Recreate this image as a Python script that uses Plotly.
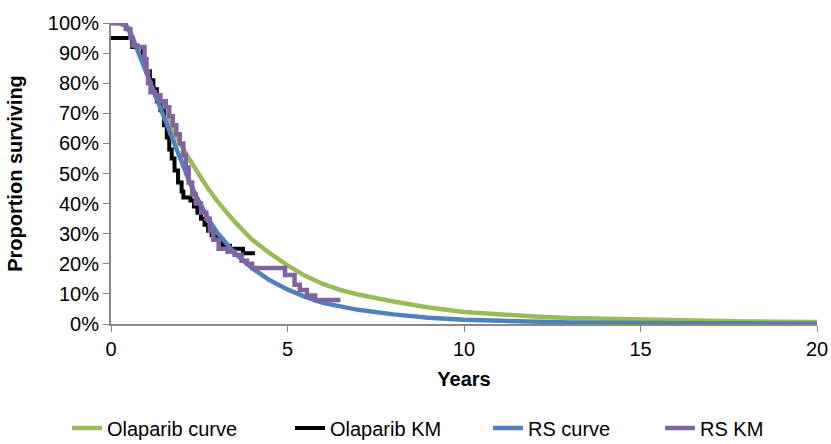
import plotly.graph_objects as go

# Fitted curves, proportion surviving in %
olap_curve_t = [0, 0.25, 0.4, 0.5, 0.6, 0.75, 0.9, 1.0, 1.25, 1.5, 1.75, 2.0, 2.25, 2.5, 2.75, 3.0, 3.5, 4.0, 4.5, 5.0, 5.5, 6, 6.5, 7, 8, 9, 10, 11, 12, 13, 14, 15, 16, 17, 18, 19, 20]
olap_curve_s = [100, 99.8, 99, 97.5, 95, 91, 87, 84.5, 78, 71, 64.5, 59, 54, 49.5, 45, 41, 34, 28, 23.5, 19.5, 16, 13.3, 11.3, 9.8, 7.5, 5.5, 4.0, 3.2, 2.5, 2.0, 1.7, 1.4, 1.2, 1.0, 0.85, 0.75, 0.65]

rs_curve_t = [0, 0.25, 0.4, 0.5, 0.6, 0.75, 0.9, 1.0, 1.25, 1.5, 1.75, 2.0, 2.25, 2.5, 2.75, 3.0, 3.5, 4.0, 4.5, 5.0, 5.5, 6.0, 6.5, 7.0, 8.0, 9.0, 10, 11, 12, 13, 14, 15, 16, 18, 20]
rs_curve_s = [100, 100, 99.5, 98, 95.5, 91, 87, 84, 76.5, 68.5, 61, 53.5, 46.5, 40.5, 35, 30.5, 23.5, 18.5, 14.5, 11.5, 9.0, 7.0, 5.7, 4.7, 3.2, 2.1, 1.4, 1.0, 0.7, 0.5, 0.4, 0.3, 0.25, 0.15, 0.1]

# Kaplan-Meier step data
olap_km_t = [0, 0.6, 0.9, 1.0, 1.1, 1.2, 1.3, 1.4, 1.5, 1.58, 1.65, 1.72, 1.8, 1.9, 2.0, 2.05, 2.25, 2.35, 2.45, 2.55, 2.65, 2.75, 2.85, 3.0, 3.17, 3.37, 3.74, 4.08]
olap_km_s = [95, 92, 88, 84, 81, 78, 74, 71, 66, 62, 58, 55, 51, 47, 44, 42, 41, 39, 37, 35, 33, 31, 29.5, 28, 26, 25, 23.5, 23.5]

rs_km_t = [0, 0.42, 0.55, 0.62, 0.75, 0.95, 1.0, 1.05, 1.12, 1.25, 1.4, 1.55, 1.65, 1.75, 1.85, 1.95, 2.05, 2.12, 2.2, 2.3, 2.4, 2.55, 2.7, 2.8, 2.9, 3.05, 3.3, 3.5, 3.7, 3.85, 4.0, 4.93, 5.2, 5.35, 5.55, 5.78, 6.5]
rs_km_s = [100, 98, 95, 92.5, 92, 88, 84, 80, 77, 76, 74, 72, 69, 66, 63, 60, 56, 52, 47, 43, 40, 37, 35, 31, 28, 25, 24, 23, 21, 20, 18.6, 16.3, 13, 11.3, 9.5, 8, 8]

x_ticks = [0, 5, 10, 15, 20]
y_ticks = [0, 10, 20, 30, 40, 50, 60, 70, 80, 90, 100]
y_tick_labels = [f"{v}%" for v in y_ticks]

series_names = ["Olaparib curve", "Olaparib KM", "RS curve", "RS KM"]
series_colors = ["#9BBB59", "#000000", "#4F81BD", "#8064A2"]

fig = go.Figure()
fig.add_trace(go.Scatter(x=olap_curve_t, y=olap_curve_s, mode="lines", name=series_names[0],
                         legend="legend", line=dict(color=series_colors[0], width=4.5)))
fig.add_trace(go.Scatter(x=olap_km_t, y=olap_km_s, mode="lines", name=series_names[1],
                         legend="legend2", line=dict(color=series_colors[1], width=4, shape="hv")))
fig.add_trace(go.Scatter(x=rs_curve_t, y=rs_curve_s, mode="lines", name=series_names[2],
                         legend="legend3", line=dict(color=series_colors[2], width=4.5)))
fig.add_trace(go.Scatter(x=rs_km_t, y=rs_km_s, mode="lines", name=series_names[3],
                         legend="legend4", line=dict(color=series_colors[3], width=4.5, shape="hv")))

font_family = "Liberation Sans, Arial, sans-serif"
W, H = 831, 444
leg_y = (H - 428) / H


def leg(xpx):
    return dict(orientation="h", xref="container", yref="container",
                x=xpx / W, xanchor="left", y=leg_y, yanchor="middle",
                font=dict(size=20), bgcolor="rgba(0,0,0,0)")


fig.update_layout(
    width=W, height=H,
    margin=dict(l=111, r=14, t=23, b=120, autoexpand=False),
    plot_bgcolor="white", paper_bgcolor="white",
    font=dict(family=font_family, size=20, color="#000000"),
    showlegend=True,
    legend=leg(67),
    legend2=leg(290),
    legend3=leg(488),
    legend4=leg(660),
    hovermode=False,
)
fig.update_xaxes(range=[0, 20], tickvals=x_ticks, ticktext=[str(v) for v in x_ticks],
                 showgrid=False, zeroline=False, showline=True, linecolor="#888888", linewidth=2,
                 ticks="outside", ticklen=6, tickcolor="#888888", tickwidth=1, automargin=False,
                 tickfont=dict(size=20),
                 title=dict(text="<b>Years</b>", font=dict(size=20), standoff=13))
fig.update_yaxes(range=[0, 100], tickvals=y_ticks, ticktext=y_tick_labels,
                 showgrid=False, zeroline=False, showline=True, linecolor="#888888", linewidth=2,
                 ticks="outside", ticklen=6, tickcolor="#888888", tickwidth=1, automargin=False,
                 tickfont=dict(size=20),
                 title=dict(text="<b>Proportion surviving</b>", font=dict(size=20), standoff=20))

fig.write_html("out.html")
